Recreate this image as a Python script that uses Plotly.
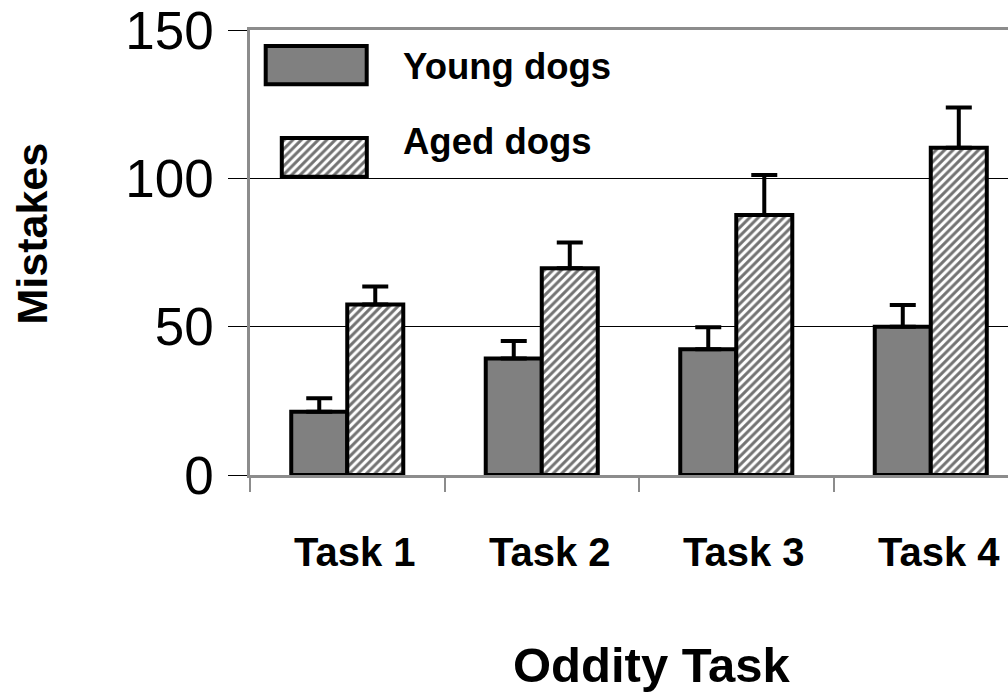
import plotly.graph_objects as go

# Mean number of mistakes per oddity task, with upper error (SEM)
tasks = ["Task 1", "Task 2", "Task 3", "Task 4"]
young_mean = [21.3, 39.3, 42.4, 50.0]
young_err = [4.6, 5.9, 7.4, 7.3]
aged_mean = [57.5, 69.7, 87.6, 110.3]
aged_err = [6.0, 8.7, 13.5, 13.6]
y_ticks = [0, 50, 100, 150]

W, H = 1008, 692
L, T, B = 250, 30, 217          # plot area: x 250..1008, y 30..475
PX0, PX1 = L, W
PY0, PY1 = T, H - B

GRAY_FILL = "#808080"
AXIS_GRAY = "#8c8c8c"
FONT = "Liberation Sans"

hatch = dict(shape="/", size=6, solidity=0.5, fgcolor="#737373", bgcolor="white", fillmode="replace")
outline = dict(color="black", width=4)

fig = go.Figure()

fig.add_bar(
    x=tasks, y=young_mean, name="Young dogs",
    marker=dict(color=GRAY_FILL, line=outline),
    error_y=dict(type="data", array=young_err, arrayminus=[0] * len(tasks), symmetric=False,
                 color="black", thickness=4, width=13),
)
fig.add_bar(
    x=tasks, y=aged_mean, name="Aged dogs",
    marker=dict(color="white", pattern=hatch, line=outline),
    error_y=dict(type="data", array=aged_err, arrayminus=[0] * len(tasks), symmetric=False,
                 color="black", thickness=4, width=13),
)

# Legend keys drawn on a pixel-scaled overlay axis (centre x, width, top y, height)
legend_keys = [
    ("Young dogs", 316.2, 101, 46, 38.3, dict(color=GRAY_FILL)),
    ("Aged dogs", 324.3, 85, 138, 38.7, dict(color="white", pattern=hatch)),
]
for name, cx, w, top, h, mk in legend_keys:
    fig.add_bar(
        x=[cx], y=[h], base=[top], width=[w], xaxis="x2", yaxis="y2",
        marker=dict(line=outline, **mk),
        showlegend=False, hoverinfo="skip",
    )

def px_x(px):
    return (px - PX0) / (PX1 - PX0)

def px_y(py):
    return (PY1 - py) / (PY1 - PY0)

bold = lambda size: dict(family=FONT, size=size, color="black", weight="bold")

annotations = [
    dict(text="Young dogs", x=px_x(401), y=px_y(66.5), xanchor="left", yanchor="middle",
         xref="paper", font=bold(36.5)),
    dict(text="Aged dogs", x=px_x(401), y=px_y(141.5), xanchor="left", yanchor="middle",
         xref="paper", font=bold(36.5)),
    dict(text="Oddity Task", x=px_x(652), y=px_y(665), xanchor="center", yanchor="middle",
         xref="paper", font=bold(49)),
    dict(text="Mistakes", x=px_x(31), y=px_y(233.5), xanchor="center", yanchor="middle",
         xref="paper", textangle=-90, font=bold(43)),
]
# Category labels under each group
for t in tasks:
    annotations.append(dict(text=t, x=t, xref="x", xshift=8, y=px_y(552),
                            xanchor="center", yanchor="middle", font=bold(40)))
for a in annotations:
    a.update(yref="paper", showarrow=False)

fig.update_layout(
    width=W, height=H,
    margin=dict(l=L, r=0, t=T, b=B, pad=0),
    paper_bgcolor="white", plot_bgcolor="white",
    barmode="group", bargap=0.424, bargroupgap=0,
    showlegend=False,
    annotations=annotations,
    xaxis=dict(
        range=[-0.5, 3.397], showgrid=False, zeroline=False,
        showline=True, linecolor=AXIS_GRAY, linewidth=3, mirror=True,
        ticks="outside", tickson="boundaries", ticklen=14, tickcolor=AXIS_GRAY, tickwidth=1.5,
        showticklabels=False,
    ),
    yaxis=dict(
        range=[0, 150], tickvals=y_ticks, showgrid=True, gridcolor="black", gridwidth=1,
        zeroline=False, showline=True, linecolor=AXIS_GRAY, linewidth=2.5,
        ticks="outside", ticklen=19, tickcolor="black", tickwidth=1,
        tickfont=dict(family=FONT, size=53, color="black"),
        ticklabelstandoff=4, ticklabeloverflow="allow",
    ),
    xaxis2=dict(domain=[0, 1], range=[PX0, PX1], overlaying="x", anchor="y2", visible=False),
    yaxis2=dict(domain=[0, 1], range=[PY1, PY0], overlaying="y", anchor="x2", visible=False),
)

fig.write_html("out.html")
